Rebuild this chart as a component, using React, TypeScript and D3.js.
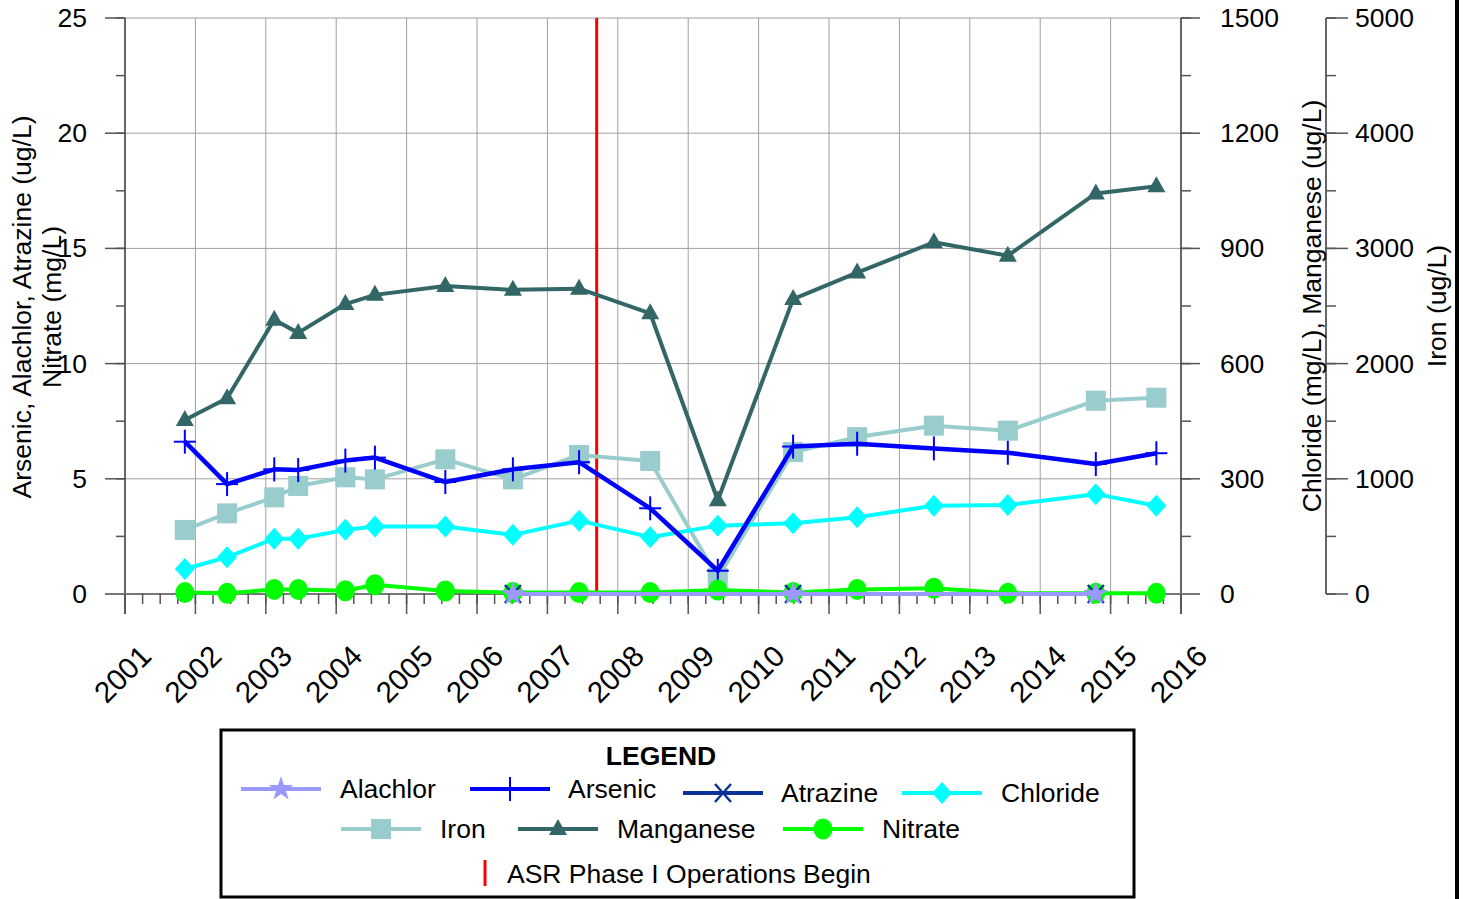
import React from "react";
import * as d3 from "d3";

const yearTicks = d3.range(2001, 2017);
const sampleDates = [2001.85, 2002.45, 2003.12, 2003.46, 2004.13, 2004.55, 2005.55, 2006.51, 2007.45, 2008.46, 2009.42, 2010.49, 2011.4, 2012.49, 2013.54, 2014.79, 2015.65];
const arsenic = [6.61, 4.77, 5.41, 5.38, 5.79, 5.92, 4.86, 5.41, 5.72, 3.72, 1.01, 6.4, 6.52, 6.32, 6.13, 5.64, 6.11];
const iron = [556, 700, 839, 938, 1013, 995, 1169, 995, 1207, 1155, 139, 1232, 1362, 1461, 1418, 1678, 1704];
const manganese = [453, 510, 714, 680, 755, 779, 802, 792, 795, 731, 244, 768, 837, 916, 881, 1043, 1062];
const chloride = [65, 96, 144, 144, 167, 176, 176, 154, 191, 148, 178, 184, 200, 230, 232, 260, 230];
const nitrate = [0.06, 0.03, 0.2, 0.2, 0.14, 0.4, 0.13, 0.06, 0.06, 0.06, 0.17, 0.07, 0.2, 0.25, 0.03, 0.03, 0.03];
const organicDates = [2006.51, 2010.49, 2014.79];
const alachlor = [0, 0, 0];
const atrazine = [0, 0, 0];
const asrStart = 2007.7;

const leftTicks = [0, 5, 10, 15, 20, 25];
const rightTicks = [0, 300, 600, 900, 1200, 1500];
const ironTicks = [0, 1000, 2000, 3000, 4000, 5000];

const C = {
  alachlor: "#9999ff",
  arsenic: "#0000ff",
  atrazine: "#0a3399",
  chloride: "#00ffff",
  iron: "#99cccc",
  manganese: "#336666",
  nitrate: "#00ff00",
  asr: "#ff0000",
};

const FONT = "'Liberation Sans', Arial, sans-serif";
const FS = 26.5;

const X0 = 125, X1 = 1181, Y0 = 594, Y1 = 18;
const x = d3.scaleLinear().domain([2001, 2016]).range([X0, X1]);
const yL = d3.scaleLinear().domain([0, 25]).range([Y0, Y1]);
const yR = d3.scaleLinear().domain([0, 1500]).range([Y0, Y1]);
const yI = d3.scaleLinear().domain([0, 5000]).range([Y0, Y1]);
const IRON_AX = 1326;

type Pt = [number, number];

function Marker({ kind, cx, cy, color }: { kind: string; cx: number; cy: number; color: string }) {
  switch (kind) {
    case "square":
      return <rect x={cx - 10} y={cy - 10} width={20} height={20} fill={color} />;
    case "triangle":
      return <path d={`M${cx},${cy - 10}L${cx + 9},${cy + 6}L${cx - 9},${cy + 6}Z`} fill={color} />;
    case "diamond":
      return <path d={`M${cx},${cy - 11}L${cx + 10},${cy}L${cx},${cy + 11}L${cx - 10},${cy}Z`} fill={color} />;
    case "circle":
      return <ellipse cx={cx} cy={cy} rx={9.5} ry={10.5} fill={color} />;
    case "plus":
      return (
        <g stroke={color} strokeWidth={2}>
          <line x1={cx - 11} x2={cx + 11} y1={cy} y2={cy} />
          <line x1={cx} x2={cx} y1={cy - 12} y2={cy + 12} />
        </g>
      );
    case "x":
      return (
        <g stroke={color} strokeWidth={2.5}>
          <line x1={cx - 8} x2={cx + 8} y1={cy - 9} y2={cy + 9} />
          <line x1={cx - 8} x2={cx + 8} y1={cy + 9} y2={cy - 9} />
        </g>
      );
    case "star":
      return <path d={d3.symbol().type(d3.symbolStar).size(190)() as string} transform={`translate(${cx},${cy})`} fill={color} />;
  }
  return null;
}

function Series({ pts, color, kind, width = 4 }: { pts: Pt[]; color: string; kind: string; width?: number }) {
  const line = d3.line<Pt>().x((d) => d[0]).y((d) => d[1]);
  return (
    <g>
      <path d={line(pts) as string} fill="none" stroke={color} strokeWidth={width} strokeLinejoin="round" />
      {pts.map((p, i) => (
        <Marker key={i} kind={kind} cx={p[0]} cy={p[1]} color={color} />
      ))}
    </g>
  );
}

function LegendItem({ lx, ly, kind, color, label, tx, ty }: { lx: number; ly: number; kind: string; color: string; label: string; tx: number; ty: number }) {
  return (
    <g>
      <line x1={lx - 40} x2={lx + 40} y1={ly} y2={ly} stroke={color} strokeWidth={4} />
      <Marker kind={kind} cx={lx} cy={ly} color={color} />
      <text x={tx} y={ty} fontSize={FS} dominantBaseline="central">{label}</text>
    </g>
  );
}

export default function App() {
  const minorX = d3.range(2001, 2016.001, 0.25);
  const minorL = d3.range(0, 25.001, 2.5);
  const minorR = d3.range(0, 1500.001, 150);
  const minorI = d3.range(0, 5000.001, 500);
  const pts = (vals: number[], dates: number[], ys: d3.ScaleLinear<number, number>): Pt[] =>
    vals.map((v, i) => [x(dates[i]), ys(v)]);

  return (
    <svg width={1466} height={899} style={{ position: "absolute", left: 0, top: 0, background: "#fff" }} fontFamily={FONT}>
      <rect width={1466} height={899} fill="#fff" />
      {/* grid */}
      <g stroke="#a0a0a0" strokeWidth={1}>
        {yearTicks.slice(1, -1).map((t) => (
          <line key={t} x1={x(t)} x2={x(t)} y1={Y1} y2={Y0} />
        ))}
        {leftTicks.slice(1).map((t) => (
          <line key={t} x1={X0} x2={X1} y1={yL(t)} y2={yL(t)} />
        ))}
      </g>
      {/* left axis */}
      <line x1={X0} x2={X0} y1={Y1} y2={Y0 + 20} stroke="#000" strokeWidth={1.2} />
      <g stroke="#555" strokeWidth={1.5}>
        {leftTicks.map((t) => (
          <line key={t} x1={X0 - 20} x2={X0} y1={yL(t)} y2={yL(t)} />
        ))}
        {minorL.map((t) => (
          <line key={t} x1={X0 - 9} x2={X0} y1={yL(t)} y2={yL(t)} />
        ))}
      </g>
      {leftTicks.map((t) => (
        <text key={t} x={87} y={yL(t)} fontSize={FS} textAnchor="end" dominantBaseline="central">{t}</text>
      ))}
      <text transform={`translate(31,307) rotate(-90)`} fontSize={FS} textAnchor="middle">Arsenic, Alachlor, Atrazine (ug/L)</text>
      <text transform={`translate(61,307) rotate(-90)`} fontSize={FS} textAnchor="middle">Nitrate (mg/L)</text>
      {/* right axis 1 */}
      <line x1={X1} x2={X1} y1={Y1} y2={Y0 + 20} stroke="#000" strokeWidth={1.2} />
      <g stroke="#555" strokeWidth={1.5}>
        {rightTicks.map((t) => (
          <line key={t} x1={X1} x2={X1 + 19} y1={yR(t)} y2={yR(t)} />
        ))}
        {minorR.map((t) => (
          <line key={t} x1={X1} x2={X1 + 10} y1={yR(t)} y2={yR(t)} />
        ))}
      </g>
      {rightTicks.map((t) => (
        <text key={t} x={1220} y={yR(t)} fontSize={FS} dominantBaseline="central">{t}</text>
      ))}
      <text transform={`translate(1321,306) rotate(-90)`} fontSize={FS} textAnchor="middle">Chloride (mg/L), Manganese (ug/L)</text>
      {/* iron axis */}
      <line x1={IRON_AX} x2={IRON_AX} y1={Y1} y2={Y0} stroke="#000" strokeWidth={1.2} />
      <g stroke="#555" strokeWidth={1.5}>
        {ironTicks.map((t) => (
          <line key={t} x1={IRON_AX} x2={IRON_AX + 22} y1={yI(t)} y2={yI(t)} />
        ))}
        {minorI.map((t) => (
          <line key={t} x1={IRON_AX} x2={IRON_AX + 10} y1={yI(t)} y2={yI(t)} />
        ))}
      </g>
      {ironTicks.map((t) => (
        <text key={t} x={1355} y={yI(t)} fontSize={FS} dominantBaseline="central">{t}</text>
      ))}
      <text transform={`translate(1446,306) rotate(-90)`} fontSize={FS} textAnchor="middle">Iron (ug/L)</text>
      {/* x axis */}
      <line x1={X0 - 20} x2={X1 + 19} y1={Y0} y2={Y0} stroke="#777" strokeWidth={2} />
      <g stroke="#555" strokeWidth={1.5}>
        {yearTicks.map((t) => (
          <line key={t} x1={x(t)} x2={x(t)} y1={Y0} y2={Y0 + 20} />
        ))}
        {minorX.map((t) => (
          <line key={t} x1={x(t)} x2={x(t)} y1={Y0} y2={Y0 + 10} />
        ))}
      </g>
      {yearTicks.map((t) => (
        <text key={t} transform={`translate(${x(t) + 28},658) rotate(-45)`} fontSize={29.5} textAnchor="end">{t}</text>
      ))}
      {/* ASR line */}
      <line x1={x(asrStart)} x2={x(asrStart)} y1={Y1} y2={Y0} stroke={C.asr} strokeWidth={3} />
      {/* series */}
      <Series pts={pts(iron, sampleDates, yI)} color={C.iron} kind="square" />
      <Series pts={pts(chloride, sampleDates, yR)} color={C.chloride} kind="diamond" />
      <Series pts={pts(manganese, sampleDates, yR)} color={C.manganese} kind="triangle" />
      <Series pts={pts(arsenic, sampleDates, yL)} color={C.arsenic} kind="plus" width={4.5} />
      <Series pts={pts(nitrate, sampleDates, yL)} color={C.nitrate} kind="circle" />
      <Series pts={pts(atrazine, organicDates, yL)} color={C.atrazine} kind="x" />
      <Series pts={pts(alachlor, organicDates, yL)} color={C.alachlor} kind="star" />
      {/* legend */}
      <rect x={221} y={730} width={913} height={167} fill="#fff" stroke="#000" strokeWidth={3} />
      <text x={661} y={756} fontSize={FS} fontWeight="bold" textAnchor="middle" dominantBaseline="central">LEGEND</text>
      <LegendItem lx={281} ly={789} kind="star" color={C.alachlor} label="Alachlor" tx={340} ty={789} />
      <LegendItem lx={510} ly={789} kind="plus" color={C.arsenic} label="Arsenic" tx={568} ty={789} />
      <LegendItem lx={723} ly={793} kind="x" color={C.atrazine} label="Atrazine" tx={781} ty={793} />
      <LegendItem lx={942} ly={793} kind="diamond" color={C.chloride} label="Chloride" tx={1001} ty={793} />
      <LegendItem lx={381} ly={829} kind="square" color={C.iron} label="Iron" tx={440} ty={829} />
      <LegendItem lx={558} ly={829} kind="triangle" color={C.manganese} label="Manganese" tx={617} ty={829} />
      <LegendItem lx={823} ly={829} kind="circle" color={C.nitrate} label="Nitrate" tx={882} ty={829} />
      <line x1={485} x2={485} y1={860} y2={886} stroke={C.asr} strokeWidth={3} />
      <text x={507} y={874} fontSize={FS} dominantBaseline="central">ASR Phase I Operations Begin</text>
      {/* right edge frame */}
      <rect x={1455} y={0} width={4} height={899} fill="#000" />
    </svg>
  );
}
